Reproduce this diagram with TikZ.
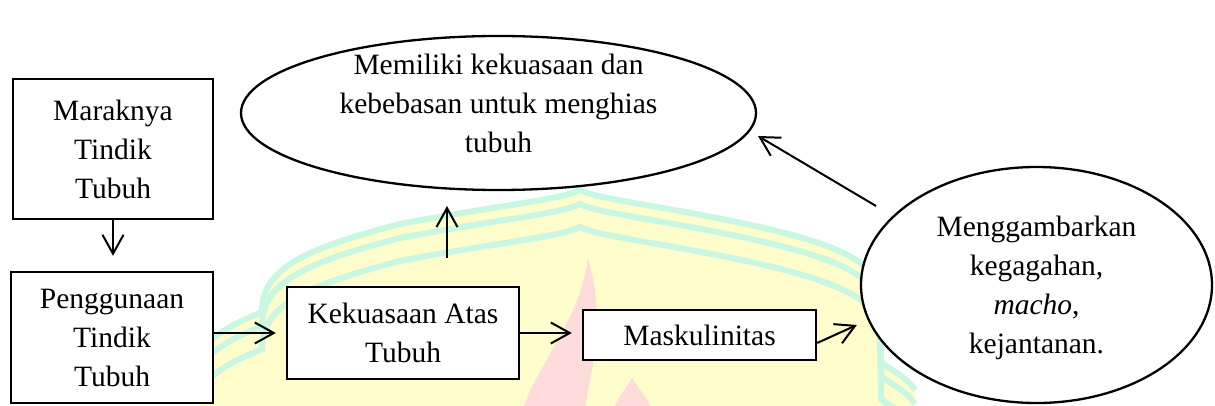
\documentclass[tikz,border=0pt]{standalone}
\usepackage{fontspec}
\setmainfont{Liberation Serif}
\usetikzlibrary{arrows.meta,shapes.geometric}
\definecolor{wmyellow}{HTML}{FFFDCC}
\definecolor{wmcyan}{HTML}{C9F7E1}
\definecolor{wmpink}{HTML}{FFDCDC}
\tikzset{
  box/.style={draw=black, line width=2.3pt, fill=white, rectangle, inner sep=0pt, align=center,
    font=\fontsize{29.5}{39}\selectfont},
  oval/.style={draw=black, line width=2.3pt, fill=white, ellipse, inner sep=0pt},
  txt/.style={align=center, inner sep=0pt, font=\fontsize{29.5}{39}\selectfont},
  arr/.style={line width=2pt, -{Straight Barb[length=19pt,width=21pt,line width=2pt]}},
  wmline/.style={draw=wmcyan, line width=6pt}
}
\begin{document}
\begin{tikzpicture}[x=1pt,y=-1pt]
\useasboundingbox (0,0) rectangle (1215,406);
% watermark background
\fill[wmyellow] (200,406) -- (200,350) .. controls (225,325) and (250,318) .. (262,312)
  .. controls (262,270) and (300,250) .. (400,224) .. controls (500,205) and (560,200) .. (580,190)
  .. controls (600,200) and (660,205) .. (760,227) .. controls (860,250) and (880,270) .. (880,300)
  -- (881,362) .. controls (890,370) and (905,375) .. (915,390) -- (915,406) -- cycle;
\foreach \dy in {0,14,37}{
\draw[wmline] (200,350+\dy) .. controls (225,325+\dy) and (250,318+\dy) .. (262,312+\dy)
  .. controls (262,270+\dy) and (300,250+\dy) .. (400,224+\dy) .. controls (500,205+\dy) and (560,200+\dy) .. (580,190+\dy)
  .. controls (600,200+\dy) and (660,205+\dy) .. (760,227+\dy) .. controls (860,250+\dy) and (880,270+\dy) .. (880,300+\dy)
  -- (881,362+\dy) .. controls (890,370+\dy) and (905,375+\dy) .. (915,390+\dy);
}
\fill[wmpink] (588,258) .. controls (600,300) and (598,340) .. (592,370) .. controls (588,390) and (586,400) .. (586,406)
  -- (524,406) .. controls (540,360) and (580,320) .. (588,258) -- cycle;
\fill[wmpink] (632,378) .. controls (640,390) and (648,400) .. (650,406) -- (615,406) .. controls (620,395) and (628,385) .. (632,378) -- cycle;
% nodes
\node[box, minimum width=200pt, minimum height=140pt] (b1) at (113,149) {Maraknya\\Tindik\\Tubuh};
\node[box, minimum width=202pt, minimum height=131pt] (b2) at (112,337.5) {Penggunaan\\Tindik\\Tubuh};
\node[box, minimum width=232pt, minimum height=92pt] (kek) at (403,333) {Kekuasaan Atas\\Tubuh};
\node[box, minimum width=233pt, minimum height=50pt] (mask) at (699.5,335) {Maskulinitas};
\node[oval, minimum width=515pt, minimum height=154pt] (e1) at (498.5,113) {};
\node[txt] (e1t) at (498.5,103) {Memiliki kekuasaan dan\\kebebasan untuk menghias\\tubuh};
\node[oval, minimum width=351pt, minimum height=236pt] (e2) at (1036.5,285) {};
\node[txt] (e2t) at (1036.5,288) {Menggambarkan\\kegagahan,\\\textit{macho},\\kejantanan.};
% connectors
\draw[arr] (b1.south) -- ([shift={(1,-15)}]b2.north);
\draw[arr] (b2.east |- kek.west) -- ([shift={(-10,0)}]kek.west);
\draw[arr] (kek.east) -- ([shift={(-10,0)}]mask.west |- kek.east);
\draw[arr] (kek.north) ++(44,-28) coordinate (ku) -- ([shift={(-51.5,93)}]e1.center);
\draw[arr] ([shift={(0,8)}]mask.east) -- ([shift={(-3,40)}]e2.west);
\draw[arr] ([shift={(-160.5,-79)}]e2.center) -- ([shift={(259.5,23)}]e1.center);
\end{tikzpicture}
\end{document}
